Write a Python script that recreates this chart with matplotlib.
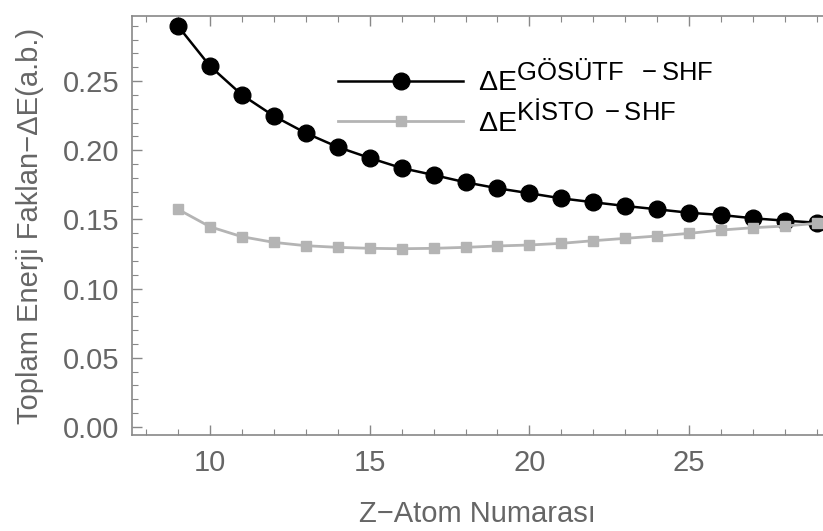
import matplotlib.pyplot as plt
import matplotlib._mathtext as mathtext_internals
from matplotlib.ticker import MultipleLocator

plt.rcParams['font.family'] = ['Liberation Sans', 'DejaVu Sans']
plt.rcParams['mathtext.fontset'] = 'custom'
plt.rcParams['mathtext.rm'] = 'Liberation Sans'
plt.rcParams['mathtext.it'] = 'Liberation Sans:italic'
# superscripts in the original are nearly full size
mathtext_internals.SHRINK_FACTOR = 0.9

# atom numbers and energy differences (a.b.)
z = [9, 10, 11, 12, 13, 14, 15, 16, 17, 18, 19, 20, 21, 22, 23, 24, 25, 26, 27, 28, 29]
de_gosutf = [0.2897, 0.2608, 0.2400, 0.2247, 0.2124, 0.2023, 0.1944, 0.1871, 0.1821, 0.1768,
             0.1725, 0.1689, 0.1652, 0.1624, 0.1597, 0.1573, 0.1548, 0.1532, 0.1508, 0.1491, 0.1476]
de_kisto = [0.1573, 0.1447, 0.1375, 0.1334, 0.1310, 0.1298, 0.1291, 0.1288, 0.1291, 0.1298,
            0.1308, 0.1315, 0.1327, 0.1346, 0.1363, 0.1380, 0.1399, 0.1423, 0.1440, 0.1452, 0.1472]

lbl_gosutf = 'ΔE$^{\\mathrm{GÖSÜTF\\ \\ −SHF}}$'
lbl_kisto = 'ΔE$^{\\mathrm{KİSTO\\ −SHF}}$'

grey_txt = '#666666'
frame_col = '#888888'

fig = plt.figure(figsize=(8.23, 5.31), dpi=100)
ax = fig.add_axes([0.1604, 0.1808, 0.8396, 0.7891])

ax.plot(z, de_gosutf, color='black', lw=1.8, marker='o', ms=12, label=lbl_gosutf, zorder=3)
ax.plot(z, de_kisto, color='#b4b4b4', lw=2.0, marker='s', ms=7.5, label=lbl_kisto, zorder=4)

ax.set_xlim(7.56, 29.19)
ax.set_ylim(-0.0058, 0.297)

ax.xaxis.set_major_locator(MultipleLocator(5))
ax.xaxis.set_minor_locator(MultipleLocator(1))
ax.yaxis.set_major_locator(MultipleLocator(0.05))
ax.yaxis.set_minor_locator(MultipleLocator(0.01))
ax.set_yticks([0.0, 0.05, 0.10, 0.15, 0.20, 0.25])
ax.set_yticklabels(['0.00', '0.05', '0.10', '0.15', '0.20', '0.25'])

ax.tick_params(which='both', direction='in', top=True, right=False, color=frame_col,
               labelcolor=grey_txt, labelsize=21)
ax.tick_params(which='major', length=7, width=1)
ax.tick_params(which='minor', length=4, width=0.8)
ax.tick_params(axis='y', pad=9)
ax.tick_params(axis='x', pad=10)

for s in ['left', 'bottom', 'top']:
    ax.spines[s].set_color(frame_col)
    ax.spines[s].set_linewidth(1.2)
ax.spines['right'].set_visible(False)

ax.set_xlabel('Z−Atom Numarası', fontsize=21, color=grey_txt)
ax.set_ylabel('Toplam Enerji Faklan−ΔE(a.b.)', fontsize=21, color=grey_txt)
ax.xaxis.set_label_coords(0.5, -0.155)
ax.yaxis.set_label_coords(-0.127, 0.5)

ax.legend(loc='upper left', bbox_to_anchor=(338 / 823, 1 - 60 / 531), bbox_transform=fig.transFigure,
          frameon=False, fontsize=20.5, handlelength=4.4, handletextpad=0.5, labelspacing=0.15,
          borderaxespad=0, borderpad=0)

fig.savefig('out.png', dpi=100)
